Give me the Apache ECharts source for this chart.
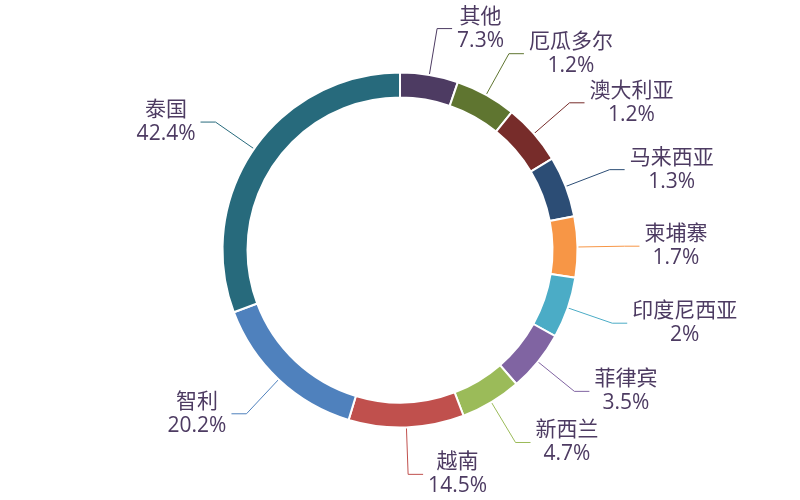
<!DOCTYPE html>
<html lang="zh">

<head>
    <meta charset="UTF-8">
    <title>进口来源占比</title>
    <script src="https://cdnjs.cloudflare.com/ajax/libs/echarts/6.0.0/echarts.min.js"></script>
    <style>
        html, body { margin: 0; padding: 0; background: #fff; }
    </style>
</head>

<body>
    <div id="main" style="width: 800px;height:500px;"></div>

    <script>
        // 数据（顺时针，从正上方开始）
        const names = ['其他', '厄瓜多尔', '澳大利亚', '马来西亚', '柬埔寨', '印度尼西亚', '菲律宾', '新西兰', '越南', '智利', '泰国'];
        const shares = [7.3, 1.2, 1.2, 1.3, 1.7, 2, 3.5, 4.7, 14.5, 20.2, 42.4];
        const palette = ['#4d3b62', '#5f7530', '#772c2a', '#2c4d75', '#f79646', '#4bacc6', '#8064a2', '#9bbb59', '#c0504d', '#4f81bd', '#276a7c'];

        const myChart = echarts.init(document.getElementById('main'));

        const font = '"Open Sans", "Noto Sans CJK SC", sans-serif';

        const option = {
            color: palette,
            textStyle: { fontFamily: font },
            series: [
                {
                    type: 'pie',
                    center: ['50%', '50%'],
                    radius: ['61%', '71%'],
                    startAngle: 90,
                    minAngle: 20,
                    avoidLabelOverlap: false,
                    labelLayout: { hideOverlap: false },
                    itemStyle: {
                        borderColor: '#fff',
                        borderWidth: 2
                    },
                    label: {
                        show: true,
                        position: 'outside',
                        formatter: '{t|{b}}\n{t|{c}%}',
                        color: '#4d3b62',
                        fontFamily: font,
                        fontSize: 21,
                        lineHeight: 24,
                        distanceToLabelLine: 5,
                        rich: {
                            t: {
                                align: 'center',
                                color: '#4d3b62',
                                fontFamily: font,
                                fontSize: 21,
                                lineHeight: 24
                            }
                        }
                    },
                    labelLine: {
                        show: true,
                        length: 47,
                        length2: 15,
                        lineStyle: { width: 1 }
                    },
                    emphasis: { disabled: true },
                    data: names.map((n, i) => ({ name: n, value: shares[i] }))
                }
            ]
        };

        myChart.setOption(option);
    </script>
</body>

</html>
